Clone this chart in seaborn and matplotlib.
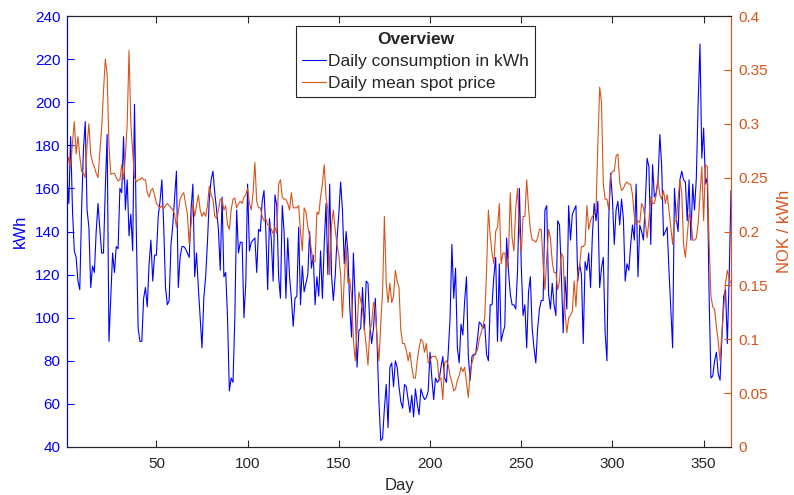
import numpy as np
import pandas as pd
import matplotlib
matplotlib.use("Agg")
import matplotlib.pyplot as plt
import seaborn as sns
from matplotlib.lines import Line2D

# Daily consumption in kWh (days 1..365)
consumption_kwh = [
    165, 153, 184, 150, 131, 128, 117, 113, 150, 178, 191, 150, 142, 114, 124, 121, 140, 153, 141, 130,
    130, 160, 185, 89, 110, 130, 121, 133, 132, 160, 158,
    184, 150, 164, 138, 148, 131, 199, 140, 95, 89, 89, 109, 114, 105, 125, 136, 117, 129, 129,
    147, 154, 164, 143, 114, 106, 108, 134, 143, 156, 168, 114,
    128, 133, 133, 132, 130, 128, 150, 162, 119, 130, 114, 100, 86, 109, 119, 135, 155, 164, 168,
    158, 150, 141, 122, 156, 119, 121, 100, 66, 72, 70, 100,
    150, 130, 135, 135, 100, 116, 162, 131, 135, 136, 137, 121, 141, 140, 154, 159, 140, 113, 146,
    136, 117, 157, 152, 119, 109, 152, 140, 109, 137,
    119, 109, 96, 109, 110, 142, 106, 124, 112, 116, 120, 140, 123, 129, 106, 119, 110, 131, 109,
    134, 153, 120, 162, 120, 108, 119, 136, 148, 163, 150,
    125, 140, 130, 105, 91, 130, 108, 77, 94, 95, 114, 94, 117, 116, 97, 88, 95, 109, 88, 61,
    43, 44, 58, 69, 49, 77, 79, 68, 80, 77, 68,
    61, 58, 69, 68, 62, 56, 64, 54, 67, 60, 55, 67, 64, 62, 63, 66, 84, 72, 62, 72,
    70, 71, 77, 82, 72, 70, 84, 100, 134,
    109, 123, 86, 79, 97, 92, 108, 119, 82, 71, 82, 83, 83, 90, 98, 97, 95, 97, 83, 80,
    106, 106, 119, 128, 89, 125, 89, 93, 96, 137, 122,
    111, 106, 106, 104, 122, 160, 125, 101, 106, 86, 112, 119, 95, 86, 79, 95, 104, 108, 108, 150,
    152, 111, 104, 116, 106, 101, 145, 143, 120, 93,
    119, 104, 152, 136, 148, 150, 152, 117, 125, 120, 88, 126, 122, 130, 114, 138, 153, 145, 154, 114,
    123, 128, 93, 80, 146, 167, 155, 134, 150,
    154, 143, 155, 146, 117, 125, 122, 134, 143, 136, 162, 119, 143, 140, 136, 153, 174, 170, 134, 171,
    156, 158, 164, 185, 170, 138, 140, 142, 122, 104, 86,
    160, 146, 140, 164, 168, 164, 163, 145, 164, 136, 162, 150, 165, 200, 227, 174, 188, 162, 165, 110,
    72, 73, 80, 84, 74, 71, 90, 110, 113, 88, 119, 159,
]

# Daily mean spot price in NOK / kWh (days 1..365)
spot_price_nok = [
    0.26, 0.269, 0.26, 0.282, 0.302, 0.272, 0.288, 0.27, 0.256, 0.254, 0.25, 0.28, 0.30, 0.272, 0.264,
    0.26, 0.254, 0.25, 0.274, 0.296, 0.33, 0.36, 0.346, 0.28, 0.253, 0.254, 0.254, 0.25, 0.247, 0.248, 0.262,
    0.248, 0.27, 0.30, 0.368, 0.30, 0.274, 0.25, 0.246, 0.248, 0.248, 0.25, 0.248, 0.248, 0.236, 0.232,
    0.238, 0.24, 0.234, 0.226, 0.224, 0.222, 0.224, 0.221, 0.224, 0.226, 0.224, 0.222, 0.22, 0.216, 0.204, 0.218,
    0.23, 0.234, 0.236, 0.226, 0.216, 0.188, 0.206, 0.226, 0.214, 0.224, 0.234, 0.22, 0.214, 0.218, 0.214,
    0.224, 0.242, 0.234, 0.23, 0.214, 0.212, 0.22, 0.23, 0.23, 0.22, 0.224, 0.206, 0.202, 0.22, 0.23, 0.231,
    0.222, 0.226, 0.228, 0.226, 0.232, 0.234, 0.24, 0.226, 0.22, 0.236, 0.264, 0.228, 0.222, 0.222, 0.214,
    0.21, 0.212, 0.206, 0.206, 0.202, 0.198, 0.204, 0.198, 0.244, 0.248, 0.232, 0.23, 0.23, 0.226,
    0.22, 0.236, 0.222, 0.222, 0.222, 0.224, 0.20, 0.182, 0.222, 0.218, 0.204, 0.196, 0.182, 0.172, 0.172,
    0.218, 0.216, 0.232, 0.244, 0.262, 0.232, 0.22, 0.16, 0.206, 0.22, 0.202, 0.188, 0.178, 0.16, 0.12,
    0.156, 0.186, 0.152, 0.156, 0.14, 0.10, 0.08, 0.108, 0.144, 0.136, 0.128, 0.11, 0.094, 0.076, 0.108,
    0.114, 0.134, 0.128, 0.10, 0.08, 0.114, 0.144, 0.214, 0.152, 0.134, 0.152, 0.134, 0.14, 0.164, 0.154, 0.148,
    0.108, 0.096, 0.096, 0.09, 0.08, 0.088, 0.074, 0.064, 0.064, 0.08, 0.092, 0.10, 0.098, 0.088, 0.096,
    0.078, 0.08, 0.084, 0.084, 0.084, 0.08, 0.062, 0.064, 0.044, 0.078, 0.08, 0.076, 0.066, 0.06,
    0.052, 0.054, 0.062, 0.066, 0.074, 0.07, 0.074, 0.06, 0.046, 0.07, 0.078, 0.084, 0.088, 0.09, 0.10,
    0.106, 0.112, 0.12, 0.164, 0.22, 0.196, 0.18, 0.17, 0.20, 0.204, 0.226, 0.17, 0.18, 0.18, 0.166, 0.176,
    0.236, 0.194, 0.182, 0.222, 0.24, 0.202, 0.18, 0.214, 0.214, 0.248, 0.222, 0.202, 0.192, 0.192, 0.19,
    0.194, 0.202, 0.202, 0.17, 0.146, 0.176, 0.202, 0.194, 0.172, 0.162, 0.162, 0.146, 0.154, 0.18, 0.176,
    0.126, 0.106, 0.12, 0.122, 0.126, 0.154, 0.13, 0.162, 0.168, 0.186, 0.186, 0.188, 0.224, 0.202, 0.21,
    0.214, 0.216, 0.22, 0.28, 0.334, 0.32, 0.244, 0.23, 0.23, 0.22, 0.252, 0.256, 0.256, 0.27,
    0.272, 0.246, 0.238, 0.24, 0.244, 0.246, 0.244, 0.244, 0.234, 0.214, 0.206, 0.21, 0.208, 0.226, 0.222,
    0.21, 0.194, 0.21, 0.232, 0.226, 0.226, 0.234, 0.248, 0.234, 0.23, 0.238, 0.226, 0.234, 0.22, 0.204, 0.188,
    0.21, 0.21, 0.23, 0.248, 0.236, 0.188, 0.176, 0.196, 0.216, 0.212, 0.192, 0.192, 0.194, 0.208, 0.234,
    0.26, 0.21, 0.262, 0.26, 0.19, 0.14, 0.13, 0.128, 0.112, 0.098, 0.08, 0.106, 0.128, 0.152, 0.164, 0.156, 0.152,
]

days = list(range(1, len(consumption_kwh) + 1))

x_ticks = [50, 100, 150, 200, 250, 300, 350]
left_ticks = [40, 60, 80, 100, 120, 140, 160, 180, 200, 220, 240]
right_ticks = [0, 0.05, 0.1, 0.15, 0.2, 0.25, 0.3, 0.35, 0.4]
right_tick_labels = ["0", "0.05", "0.1", "0.15", "0.2", "0.25", "0.3", "0.35", "0.4"]
legend_labels = ["Daily consumption in kWh", "Daily mean spot price"]
legend_title = "Overview"

sns.set_theme(style="white")
plt.rcParams["font.family"] = ["Liberation Sans", "DejaVu Sans"]

BLUE = "#0000FF"
ORANGE = "#D95319"
DARK = "#262626"

W, H = 794, 495
fig = plt.figure(figsize=(W / 100, H / 100), dpi=100)
ax = fig.add_axes([67 / W, 48 / H, 664 / W, 431 / H])
ax2 = ax.twinx()

df = pd.DataFrame({"Day": days, "kWh": consumption_kwh, "price": spot_price_nok})
sns.lineplot(data=df, x="Day", y="kWh", ax=ax, color=BLUE, linewidth=0.8, legend=False)
sns.lineplot(data=df, x="Day", y="price", ax=ax2, color=ORANGE, linewidth=0.8, legend=False)

ax.set_xlim(1, 365)
ax.set_ylim(40, 240)
ax2.set_ylim(0, 0.4)
ax.set_xticks(x_ticks)
ax.set_yticks(left_ticks)
ax2.set_yticks(right_ticks)
ax2.set_yticklabels(right_tick_labels)

TICK_FS = 11
ax.tick_params(axis="x", direction="in", length=5, width=0.8, top=True, bottom=True,
               colors=DARK, labelsize=TICK_FS, pad=7)
ax.tick_params(axis="y", direction="in", length=5, width=0.8, left=True, right=False,
               colors=BLUE, labelsize=TICK_FS, pad=4.5)
ax2.tick_params(axis="y", direction="in", length=5, width=0.8, colors=ORANGE,
                labelsize=TICK_FS, pad=5)

for a in (ax, ax2):
    for s in ("top", "bottom"):
        a.spines[s].set_color(DARK)
        a.spines[s].set_linewidth(0.8)
    a.spines["left"].set_color(BLUE)
    a.spines["right"].set_color(ORANGE)
    a.spines["left"].set_linewidth(0.8)
    a.spines["right"].set_linewidth(0.8)
    a.grid(False)

ax.set_xlabel("Day", fontsize=12, color=DARK, labelpad=5)
ax.set_ylabel("kWh", fontsize=12, color=BLUE, labelpad=5)
ax2.set_ylabel("NOK / kWh", fontsize=12, color=ORANGE, labelpad=7)

handles = [Line2D([], [], color=BLUE, lw=0.8), Line2D([], [], color=ORANGE, lw=0.8)]
leg = fig.legend(handles, legend_labels, title=legend_title, loc="upper left",
                 bbox_to_anchor=(296 / W, 1 - 26 / H), fontsize=12.5,
                 title_fontproperties={"weight": "bold", "size": 12.5},
                 frameon=True, fancybox=False, edgecolor=DARK, framealpha=1,
                 borderpad=0.35, handlelength=1.35, handletextpad=0.15,
                 labelspacing=0.4, borderaxespad=0)
leg.get_frame().set_linewidth(0.8)

fig.canvas.draw()
r = fig.canvas.get_renderer()
fb = leg.get_frame().get_window_extent(r)
tb = leg.get_title().get_window_extent(r)
t0 = leg.get_texts()[0].get_window_extent(r)
ysep = (tb.y0 + t0.y1) / 2
fig.add_artist(Line2D([fb.x0 / W, fb.x1 / W], [ysep / H, ysep / H], transform=fig.transFigure,
                      color=DARK, lw=0.8))

fig.savefig("out.png", dpi=100)
